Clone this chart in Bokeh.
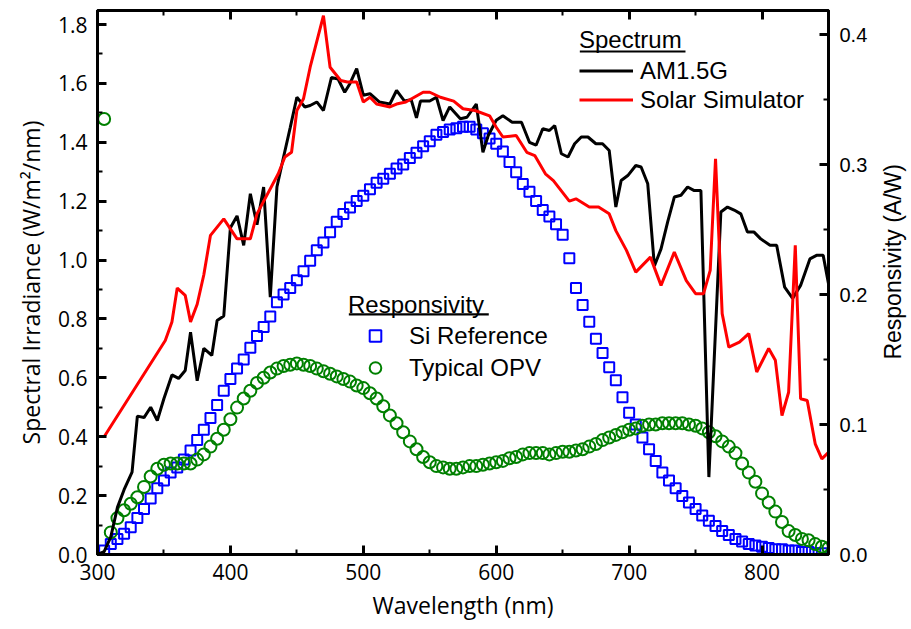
import math
from bokeh.plotting import figure
from bokeh.layouts import row
from bokeh.models import (Range1d, LinearAxis, SingleIntervalTicker, PrintfTickFormatter,
                          Legend, LegendItem, BoxAnnotation, Label)
from bokeh.embed import file_html
from bokeh.resources import INLINE

# ---------------- data ----------------
am15_nm = [300, 305, 310, 315, 320, 326, 330, 335, 340, 345, 350, 356, 361, 366, 370, 375, 380,
           386, 390, 395, 400, 405, 410, 415, 420, 425, 430, 435, 440, 445, 450, 456, 460, 465,
           470, 476, 481, 486, 490, 495, 500, 505, 512, 520, 525, 531, 536, 540, 543, 550, 555,
           560, 565, 573, 578, 585, 590, 594, 600, 605, 612, 619, 625, 630, 635, 640, 644, 649,
           654, 659, 664, 669, 675, 680, 685, 690, 694, 699, 705, 709, 714, 719, 724, 729, 734,
           739, 744, 749, 754, 760, 769, 774, 779, 784, 789, 794, 799, 806, 811, 817, 823, 829,
           836, 841, 846, 850]
am15_val = [0.00, 0.01, 0.06, 0.16, 0.22, 0.28, 0.47, 0.465, 0.50, 0.455, 0.53, 0.61, 0.598,
            0.625, 0.755, 0.59, 0.70, 0.676, 0.795, 0.81, 1.11, 1.15, 1.05, 1.225, 1.12, 1.248,
            0.874, 1.248, 1.35, 1.45, 1.553, 1.52, 1.525, 1.537, 1.508, 1.62, 1.615, 1.57, 1.60,
            1.65, 1.56, 1.565, 1.537, 1.53, 1.576, 1.54, 1.545, 1.483, 1.54, 1.54, 1.553, 1.474,
            1.52, 1.48, 1.485, 1.53, 1.366, 1.423, 1.475, 1.49, 1.468, 1.468, 1.40, 1.39, 1.446,
            1.44, 1.457, 1.361, 1.35, 1.395, 1.418, 1.418, 1.395, 1.395, 1.372, 1.18, 1.27, 1.287,
            1.321, 1.316, 1.259, 0.98, 1.038, 1.13, 1.214, 1.22, 1.248, 1.236, 1.236, 0.263, 1.163,
            1.18, 1.17, 1.157, 1.095, 1.095, 1.072, 1.05, 1.05, 0.908, 0.87, 0.914, 1.004, 1.016,
            1.016, 0.92]

sim_nm = [305, 351, 356, 360, 366, 370, 375, 380, 385, 395, 405, 415, 420, 436, 441, 446, 450,
          455, 460, 470, 475, 483, 488, 495, 500, 505, 510, 520, 525, 532, 545, 550, 558, 568,
          575, 584, 595, 600, 605, 615, 623, 629, 637, 643, 655, 660, 670, 677, 685, 690, 698,
          705, 716, 724, 734, 743, 750, 756, 761, 765, 770, 775, 783, 790, 796, 805, 810, 815,
          820, 825, 829, 834, 840, 845, 850]
sim_val = [0.40, 0.727, 0.79, 0.905, 0.88, 0.79, 0.85, 0.95, 1.084, 1.14, 1.072, 1.072, 1.157,
           1.293, 1.35, 1.366, 1.508, 1.548, 1.655, 1.83, 1.655, 1.61, 1.605, 1.605, 1.537, 1.553,
           1.53, 1.52, 1.53, 1.537, 1.57, 1.57, 1.553, 1.54, 1.514, 1.508, 1.49, 1.451, 1.418,
           1.423, 1.366, 1.355, 1.293, 1.27, 1.20, 1.208, 1.18, 1.18, 1.157, 1.10, 1.033, 0.959,
           1.01, 0.914, 1.027, 0.93, 0.886, 0.886, 0.965, 1.344, 0.818, 0.704, 0.721, 0.75, 0.62,
           0.70, 0.66, 0.472, 0.551, 1.05, 0.529, 0.523, 0.376, 0.325, 0.347]

si_nm = list(range(305, 850, 5))
si_val = [0.003, 0.008, 0.012, 0.016, 0.021, 0.028, 0.035, 0.043, 0.051, 0.057, 0.063, 0.067,
          0.073, 0.080, 0.088, 0.096, 0.105, 0.115, 0.126, 0.135, 0.143, 0.150, 0.159, 0.168,
          0.175, 0.183, 0.194, 0.200, 0.205, 0.211, 0.218, 0.226, 0.234, 0.240, 0.248, 0.256,
          0.262, 0.267, 0.272, 0.276, 0.281, 0.286, 0.289, 0.293, 0.297, 0.300, 0.305, 0.309,
          0.314, 0.318, 0.323, 0.325, 0.327, 0.328, 0.329, 0.329, 0.327, 0.324, 0.320, 0.316,
          0.310, 0.302, 0.294, 0.285, 0.279, 0.272, 0.265, 0.260, 0.254, 0.246, 0.228, 0.205,
          0.192, 0.179, 0.166, 0.155, 0.144, 0.134, 0.121, 0.109, 0.100, 0.090, 0.081, 0.072,
          0.063, 0.057, 0.051, 0.045, 0.040, 0.035, 0.030, 0.026, 0.022, 0.018, 0.015, 0.012,
          0.010, 0.008, 0.007, 0.006, 0.005, 0.004, 0.004, 0.003, 0.003, 0.002, 0.002, 0.001,
          0.001]

opv_nm = list(range(305, 851, 5))
opv_val = [0.335, 0.017, 0.028, 0.034, 0.039, 0.044, 0.052, 0.060, 0.066, 0.069, 0.070, 0.070,
           0.070, 0.070, 0.073, 0.077, 0.083, 0.089, 0.096, 0.104, 0.113, 0.120, 0.126, 0.132,
           0.136, 0.140, 0.143, 0.145, 0.146, 0.147, 0.146, 0.145, 0.143, 0.141, 0.139, 0.137,
           0.135, 0.133, 0.130, 0.128, 0.124, 0.120, 0.114, 0.107, 0.101, 0.094, 0.087, 0.081,
           0.075, 0.071, 0.068, 0.067, 0.066, 0.066, 0.067, 0.068, 0.068, 0.069, 0.070, 0.071,
           0.072, 0.074, 0.075, 0.077, 0.078, 0.078, 0.078, 0.077, 0.078, 0.079, 0.079, 0.080,
           0.081, 0.083, 0.085, 0.088, 0.090, 0.092, 0.094, 0.096, 0.097, 0.099, 0.100, 0.100,
           0.101, 0.101, 0.101, 0.101, 0.100, 0.099, 0.097, 0.094, 0.091, 0.087, 0.083, 0.078,
           0.070, 0.063, 0.056, 0.047, 0.040, 0.033, 0.025, 0.018, 0.015, 0.012, 0.011, 0.008,
           0.006, 0.005]

# ---------------- main figure ----------------
p = figure(width=880, height=629, output_backend="svg", toolbar_location=None,
           x_range=Range1d(300, 850), y_range=Range1d(0, 1.8476),
           min_border_left=97, min_border_right=52, min_border_top=10, min_border_bottom=75,
           x_axis_location=None, y_axis_location=None)
p.extra_y_ranges = {"resp": Range1d(0, 0.4185)}
p.xgrid.grid_line_color = None
p.ygrid.grid_line_color = None
p.outline_line_color = "black"
p.outline_line_width = 3
p.background_fill_color = "white"
p.border_fill_color = "white"


def style(ax, font, size):
    ax.axis_line_width = 3
    ax.axis_line_color = "black"
    ax.major_tick_line_width = 3
    ax.minor_tick_line_width = 2
    ax.major_tick_in = 9
    ax.major_tick_out = 0
    ax.minor_tick_in = 5
    ax.minor_tick_out = 0
    ax.major_label_text_font = font
    ax.major_label_text_font_size = f"{size}px"
    ax.major_label_text_color = "black"
    ax.axis_label_text_color = "black"
    ax.axis_label_text_font_style = "normal"


bottom = LinearAxis(ticker=SingleIntervalTicker(interval=100, num_minor_ticks=2),
                    axis_label="Wavelength (nm)")
style(bottom, "Open Sans", 21)
bottom.major_label_standoff = 9
bottom.axis_label_text_font = "Open Sans"
bottom.axis_label_text_font_size = "23px"
bottom.axis_label_standoff = 6
p.add_layout(bottom, "below")

# top axis: ticks only (mirror of the bottom one)
top = LinearAxis(ticker=SingleIntervalTicker(interval=100, num_minor_ticks=2))
style(top, "Open Sans", 0)
top.major_label_text_font_size = "0px"
top.major_label_text_color = None
top.major_label_standoff = 0
p.add_layout(top, "above")

left = LinearAxis(ticker=SingleIntervalTicker(interval=0.2, num_minor_ticks=2),
                  formatter=PrintfTickFormatter(format="%.1f"),
                  axis_label="Spectral Irradiance (W/m\u00b2/nm)")
style(left, "Open Sans", 21)
left.major_label_standoff = 10
left.axis_label_text_font = "Open Sans"
left.axis_label_text_font_size = "23px"
left.axis_label_standoff = 8
p.add_layout(left, "left")

right = LinearAxis(y_range_name="resp",
                   ticker=SingleIntervalTicker(interval=0.1, num_minor_ticks=2),
                   formatter=PrintfTickFormatter(format="%.1f"))
style(right, "Liberation Sans", 20)
right.major_label_standoff = 11
p.add_layout(right, "right")

# ---------------- glyphs ----------------
r_si = p.scatter(si_nm, si_val, y_range_name="resp", marker="square", size=10,
                 fill_color=None, line_color="#0000FF", line_width=2)
r_opv = p.scatter(opv_nm, opv_val, y_range_name="resp", marker="circle", size=12,
                  fill_color=None, line_color="#008000", line_width=2)
r_am = p.line(am15_nm, am15_val, line_color="black", line_width=3)
r_sim = p.line(sim_nm, sim_val, line_color="#FF0000", line_width=3)


def make_legend(items, title, loc, spacing):
    return Legend(items=items, title=title, location=loc,
                  title_text_font="Liberation Sans", title_text_font_size="24px",
                  title_text_font_style="normal", title_text_color="black", title_standoff=2,
                  label_text_font="Liberation Sans", label_text_font_size="24px",
                  label_text_color="black",
                  glyph_width=54, glyph_height=29, label_height=29, label_standoff=7,
                  spacing=spacing, padding=0, margin=0,
                  border_line_color=None, background_fill_alpha=0)


leg1 = make_legend([LegendItem(label="AM1.5G", renderers=[r_am]),
                    LegendItem(label="Solar Simulator", renderers=[r_sim])],
                   "Spectrum", (482, 440), 0)
leg2 = make_legend([LegendItem(label="Si Reference", renderers=[r_si]),
                    LegendItem(label="Typical OPV", renderers=[r_opv])],
                   "Responsivity", (251, 172), 3)
p.add_layout(leg1)
p.add_layout(leg2)

# underlines of the legend headers
p.add_layout(BoxAnnotation(left=662.9, right=742.4, top=1.712, bottom=1.705,
                           fill_color="black", fill_alpha=1, line_color=None))
p.add_layout(BoxAnnotation(left=489.1, right=594.4, top=0.819, bottom=0.812,
                           fill_color="black", fill_alpha=1, line_color=None))

# ---------------- narrow strip holding the right-axis title ----------------
t = figure(width=31, height=629, output_backend="svg", toolbar_location=None,
           x_range=Range1d(0, 1), y_range=Range1d(0, 1), min_border=0,
           x_axis_location=None, y_axis_location=None)
t.xgrid.grid_line_color = None
t.ygrid.grid_line_color = None
t.outline_line_color = None
t.background_fill_color = "white"
t.border_fill_color = "white"
t.add_layout(Label(text="Responsivity (A/W)", x=0.40, y=0.538, angle=math.pi / 2,
                   text_align="center", text_baseline="middle",
                   text_font="Liberation Sans", text_font_size="23px", text_color="black"))

layout = row(p, t, spacing=0)
open("out.html", "w").write(file_html(layout, INLINE))
